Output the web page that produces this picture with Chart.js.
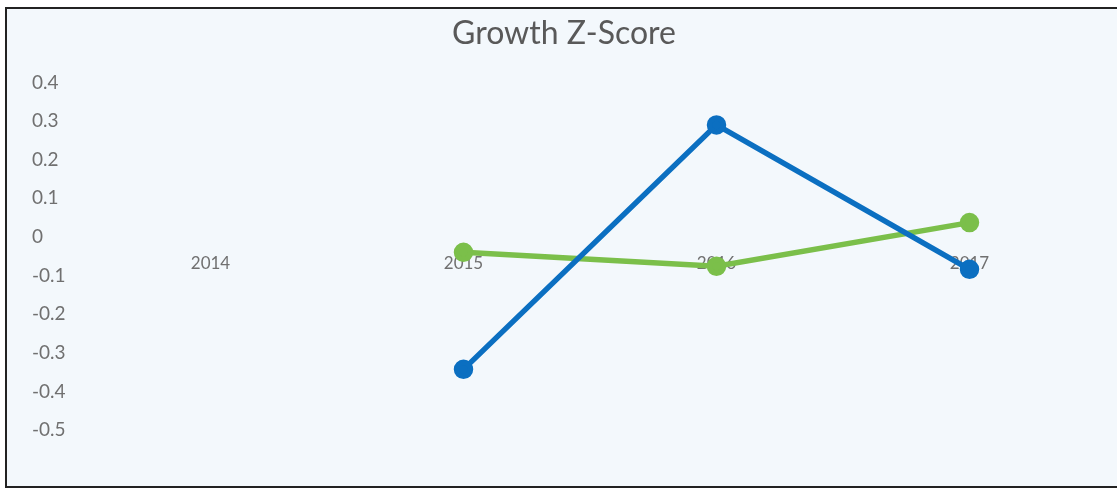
<!DOCTYPE html>
<html>
<head>
<meta charset="utf-8">
<script src="https://cdn.jsdelivr.net/npm/chart.js@4"></script>
<style>
  html, body { margin: 0; padding: 0; background: #ffffff; overflow: hidden; }
  #frame {
    position: absolute;
    left: 5px;
    top: 7px;
    width: 1110px;
    height: 477px;
    border-top: 2px solid #222;
    border-left: 2px solid #222;
    border-bottom: 2px solid #222;
    background: #f3f8fc;
  }
  #chart { display: block; }
</style>
</head>
<body>
<div id="frame">
  <canvas id="chart" width="1110" height="477"></canvas>
</div>
<script>
const years = ["2014", "2015", "2016", "2017"];
const blueScores = [null, -0.343, 0.29, -0.084];
const greenScores = [null, -0.04, -0.076, 0.037];
const yMin = -0.5;
const yMax = 0.4;

let ctx = document.getElementById("chart");
let chart = new Chart(ctx, {
    type: "line",
    data: {
        labels: years,
        datasets: [{
                label: "Series 1",
                data: blueScores,
                borderColor: "#0b6fc1",
                backgroundColor: "#0b6fc1",
                borderWidth: 5.5,
                pointRadius: 7,
                pointHoverRadius: 7,
                tension: 0,
                fill: false,
            },
            {
                label: "Series 2",
                data: greenScores,
                borderColor: "#7bbf4a",
                backgroundColor: "#7bbf4a",
                borderWidth: 5.5,
                pointRadius: 7,
                pointHoverRadius: 7,
                tension: 0,
                fill: false,
            },
        ],
    },
    options: {
        responsive: false,
        animation: false,
        layout: {
            padding: { left: 25, right: 21, top: 0, bottom: 56 },
        },
        plugins: {
            legend: { display: false },
            tooltip: { enabled: false },
            title: {
                display: true,
                text: "Growth Z-Score",
                color: "#595959",
                font: { family: "Lato", size: 32, weight: "normal" },
                padding: { top: 5, bottom: 30 },
            },
        },
        scales: {
            x: {
                position: { y: 0 },
                offset: true,
                grid: { display: false, drawTicks: false },
                border: { display: false },
                ticks: {
                    color: "#707070",
                    font: { family: "Lato", size: 17 },
                    padding: 16,
                },
            },
            y: {
                min: yMin,
                max: yMax,
                grid: { display: false, drawTicks: false },
                border: { display: false },
                afterFit: (scale) => { scale.width = 52; },
                ticks: {
                    stepSize: 0.1,
                    crossAlign: "far",
                    color: "#707070",
                    font: { family: "Lato", size: 19 },
                    callback: (v) => {
                        let r = Math.round(v * 10) / 10;
                        return r === 0 ? "0" : r.toFixed(1);
                    },
                },
            },
        },
    },
});
</script>
</body>
</html>
